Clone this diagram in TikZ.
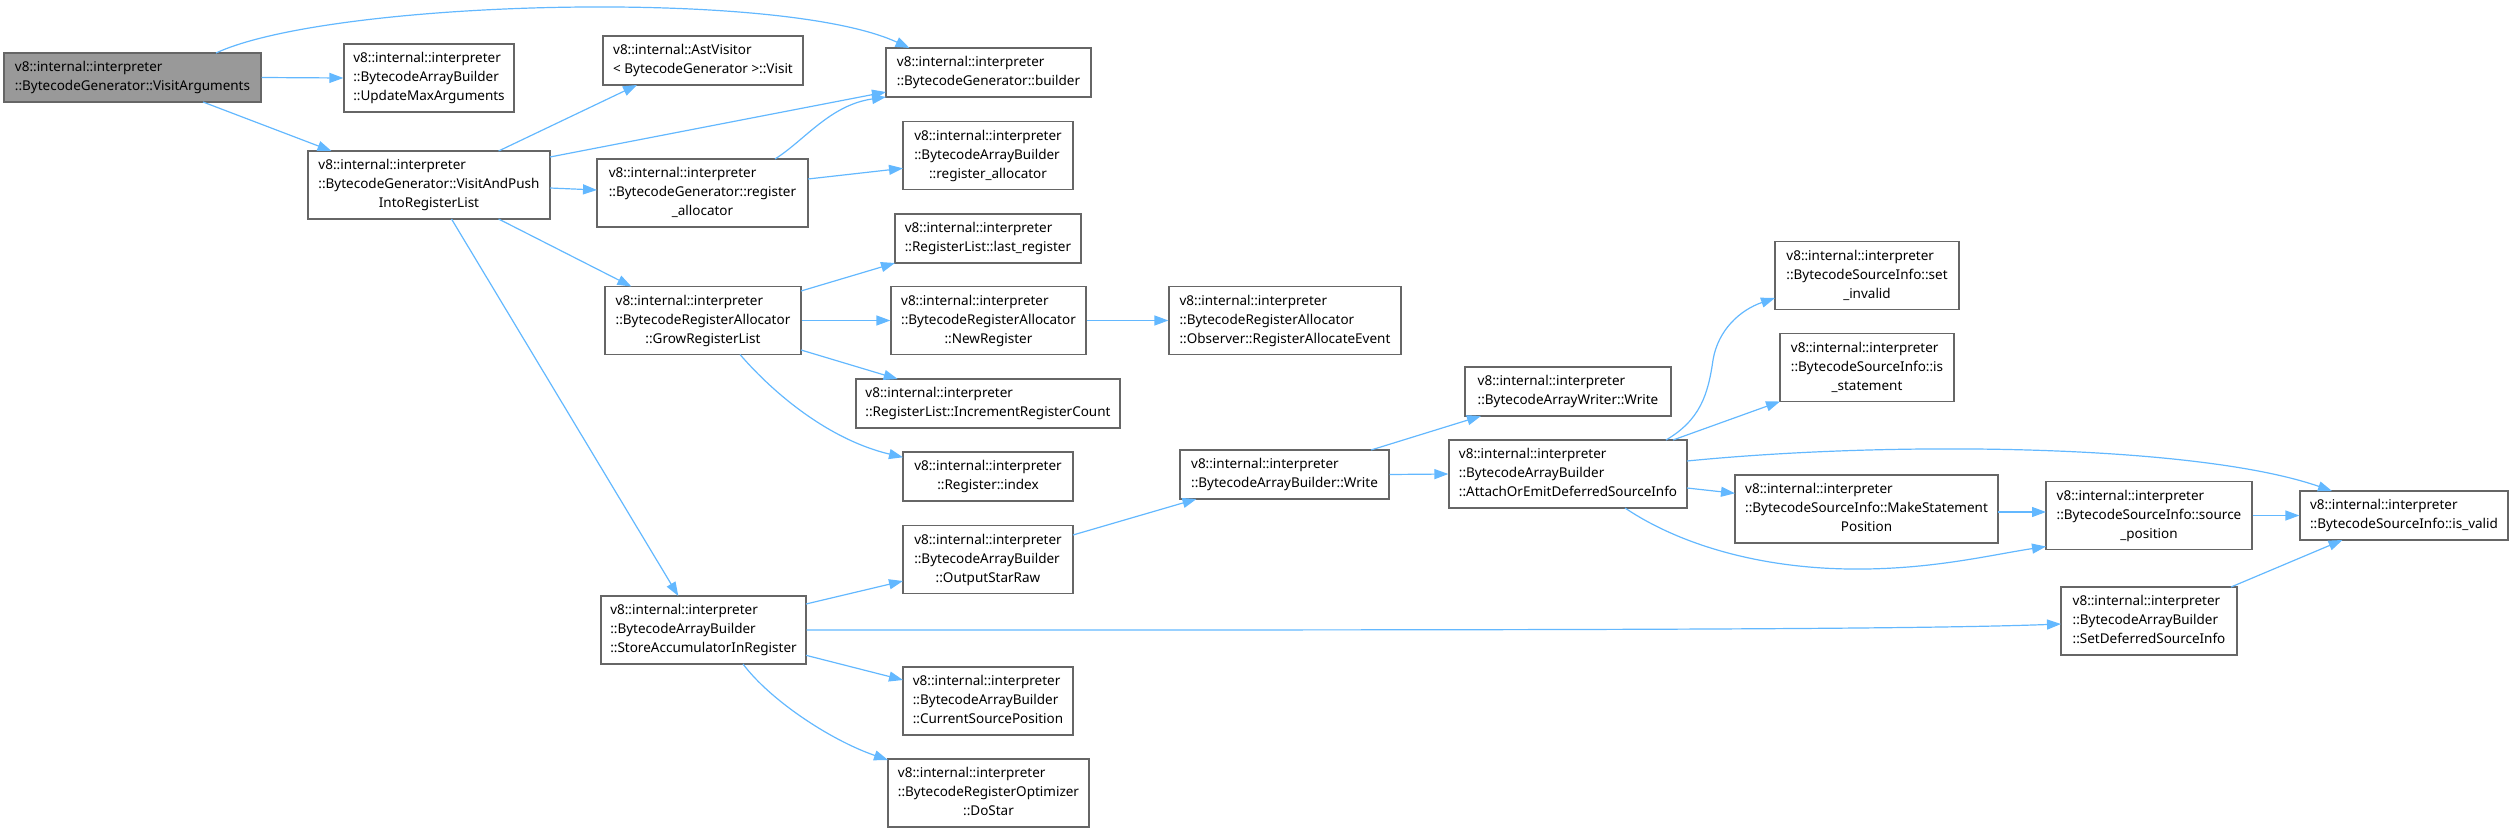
\documentclass[tikz,border=0pt]{standalone}
\usepackage{fontspec}
\setmainfont{Noto Sans}
\usetikzlibrary{arrows.meta,calc}
\definecolor{edgec}{HTML}{63B8FF}
\definecolor{boxc}{HTML}{666666}
\definecolor{rootc}{HTML}{999999}
\newcommand{\labtwo}[2]{\begin{tabular}{@{}l@{}}#1\\\multicolumn{1}{@{}c@{}}{#2}\end{tabular}}
\newcommand{\labthree}[3]{\begin{tabular}{@{}l@{}}#1\\#2\\\multicolumn{1}{@{}c@{}}{#3}\end{tabular}}
\tikzset{
  fn/.style={draw=boxc, line width=1.2pt, fill=white, inner sep=0pt, minimum height=68pt,
    font=\fontsize{13.5}{19}\selectfont},
  two/.style={minimum height=49pt},
  root/.style={fill=rootc},
  call/.style={draw=edgec, line width=1.2pt, -{Triangle[length=14pt,width=10pt]}},
}
\begin{document}
\begin{tikzpicture}[x=1pt,y=-1pt]
\useasboundingbox (0,0) rectangle (2513,832);
% nodes
\node[fn,two,root,minimum width=257pt] (A) at (132.5,77.5) {\labtwo{v8::internal::interpreter}{::BytecodeGenerator::VisitArguments}};
\node[fn,minimum width=170pt] (B) at (429,78) {\labthree{v8::internal::interpreter}{::BytecodeArrayBuilder}{::UpdateMaxArguments}};
\node[fn,two,minimum width=200pt] (C) at (703,60.5) {\labtwo{v8::internal::AstVisitor}{< BytecodeGenerator >::Visit}};
\node[fn,minimum width=242pt] (D) at (429,185) {\labthree{v8::internal::interpreter}{::BytecodeGenerator::VisitAndPush}{IntoRegisterList}};
\node[fn,minimum width=211pt] (E) at (702.5,193) {\labthree{v8::internal::interpreter}{::BytecodeGenerator::register}{\_allocator}};
\node[fn,two,minimum width=205pt] (F) at (988.5,72.5) {\labtwo{v8::internal::interpreter}{::BytecodeGenerator::builder}};
\node[fn,minimum width=170pt] (G) at (988,155.5) {\labthree{v8::internal::interpreter}{::BytecodeArrayBuilder}{::register\_allocator}};
\node[fn,minimum width=196pt] (H) at (703,320.5) {\labthree{v8::internal::interpreter}{::BytecodeRegisterAllocator}{::GrowRegisterList}};
\node[fn,two,minimum width=186pt] (I) at (988,238.5) {\labtwo{v8::internal::interpreter}{::RegisterList::last\_register}};
\node[fn,minimum width=195pt] (J) at (988.5,320.5) {\labthree{v8::internal::interpreter}{::BytecodeRegisterAllocator}{::NewRegister}};
\node[fn,minimum width=232pt] (K) at (1285,320.5) {\labthree{v8::internal::interpreter}{::BytecodeRegisterAllocator}{::Observer::RegisterAllocateEvent}};
\node[fn,two,minimum width=264pt] (L) at (988,403.5) {\labtwo{v8::internal::interpreter}{::RegisterList::IncrementRegisterCount}};
\node[fn,two,minimum width=170pt] (M) at (988,476.5) {\labtwo{v8::internal::interpreter}{::Register::index}};
\node[fn,minimum width=205pt] (N) at (703.5,630) {\labthree{v8::internal::interpreter}{::BytecodeArrayBuilder}{::StoreAccumulatorInRegister}};
\node[fn,minimum width=170pt] (O) at (988,559.5) {\labthree{v8::internal::interpreter}{::BytecodeArrayBuilder}{::OutputStarRaw}};
\node[fn,minimum width=170pt] (P) at (988,701) {\labthree{v8::internal::interpreter}{::BytecodeArrayBuilder}{::CurrentSourcePosition}};
\node[fn,minimum width=201pt] (Q) at (988.5,793) {\labthree{v8::internal::interpreter}{::BytecodeRegisterOptimizer}{::DoStar}};
\node[fn,two,minimum width=209pt] (R) at (1284.5,474.5) {\labtwo{v8::internal::interpreter}{::BytecodeArrayBuilder::Write}};
\node[fn,two,minimum width=206pt] (S) at (1568,391.5) {\labtwo{v8::internal::interpreter}{::BytecodeArrayWriter::Write}};
\node[fn,minimum width=238pt] (T) at (1568,474) {\labthree{v8::internal::interpreter}{::BytecodeArrayBuilder}{::AttachOrEmitDeferredSourceInfo}};
\node[fn,minimum width=184pt] (U) at (1867,275.5) {\labthree{v8::internal::interpreter}{::BytecodeSourceInfo::set}{\_invalid}};
\node[fn,minimum width=174pt] (V) at (1867,367.5) {\labthree{v8::internal::interpreter}{::BytecodeSourceInfo::is}{\_statement}};
\node[fn,minimum width=263pt] (W) at (1866.5,509) {\labthree{v8::internal::interpreter}{::BytecodeSourceInfo::MakeStatement}{Position}};
\node[fn,minimum width=206pt] (X) at (2149,515.5) {\labthree{v8::internal::interpreter}{::BytecodeSourceInfo::source}{\_position}};
\node[fn,two,minimum width=208pt] (Y) at (2404,515.5) {\labtwo{v8::internal::interpreter}{::BytecodeSourceInfo::is\_valid}};
\node[fn,minimum width=176pt] (Z) at (2149,621) {\labthree{v8::internal::interpreter}{::BytecodeArrayBuilder}{::SetDeferredSourceInfo}};
% edges
\draw[call] (A.east) -- (B.west);
\draw[call] ($(A)+(70.5,24.5)$) -- ($(D)+(-97.5,-34)$);
\draw[call] ($(A)+(83.5,-24.5)$) .. controls (330,0) and (780,-12) .. ($(F)+(-79,-24.5)$);
\draw[call] ($(D)+(69.6,-34)$) -- ($(C)+(-66,24.5)$);
\draw[call] ($(D)+(121,-28)$) -- ($(F)+(-102.5,19.5)$);
\draw[call] ($(D)+(121,3)$) -- ($(E)+(-105.5,-3)$);
\draw[call] ($(D)+(69.6,34)$) -- ($(H)+(-71.6,-34)$);
\draw[call] ($(D)+(22.5,34)$) -- ($(N)+(-25.2,-34)$);
\draw[call] ($(E)+(72.5,-34)$) .. controls (805,140) and (830,105) .. ($(F)+(-102.5,24.5)$);
\draw[call] ($(E)+(105.5,-14)$) -- ($(G)+(-85,12.8)$);
\draw[call] ($(H)+(98,-29.5)$) -- ($(I)+(-93,24.5)$);
\draw[call] (H.east) -- (J.west);
\draw[call] ($(H)+(98,29.5)$) -- ($(L)+(-90.3,-24.5)$);
\draw[call] ($(H)+(37,34)$) .. controls (775,395) and (830,440) .. ($(M)+(-85,-19.2)$);
\draw[call] (J.east) -- (K.west);
\draw[call] ($(N)+(102.5,-26)$) -- ($(O)+(-85,21.5)$);
\draw[call] (N.east) .. controls (1500,630) and (1900,630) .. ($(Z)+(-88,3)$);
\draw[call] ($(N)+(102.5,25.3)$) -- ($(P)+(-85,-21)$);
\draw[call] ($(N)+(39.5,34)$) .. controls (770,700) and (830,740) .. ($(Q)+(-100.5,-33)$);
\draw[call] ($(O)+(85,-24.5)$) -- ($(R)+(-88,24.5)$);
\draw[call] ($(R)+(86.5,-24.5)$) -- ($(S)+(-87,24.5)$);
\draw[call] (R.east) -- (T.west);
\draw[call] ($(T)+(98,-34)$) .. controls (1700,420) and (1708,395) .. (1713,360) .. controls (1718,330) and (1740,310) .. ($(U)+(-92,22.5)$);
\draw[call] ($(T)+(105,-34)$) -- ($(V)+(-87,34)$);
\draw[call] ($(T)+(119,-13)$) .. controls (1900,440) and (2200,445) .. ($(Y)+(-72,-24.5)$);
\draw[call] ($(T)+(119,14)$) -- ($(W)+(-131.5,-15.7)$);
\draw[call] ($(T)+(57,34)$) .. controls (1680,545) and (1760,568) .. (1850,569) .. controls (1930,570) and (1990,555) .. ($(X)+(-103,31)$);
\draw[call] ($(W)+(131.5,3)$) -- ($(X)+(-103,-3.5)$);
\draw[call] (X.east) -- (Y.west);
\draw[call] ($(Z)+(82,-34)$) -- ($(Y)+(-61.5,24.5)$);
\end{tikzpicture}
\end{document}
